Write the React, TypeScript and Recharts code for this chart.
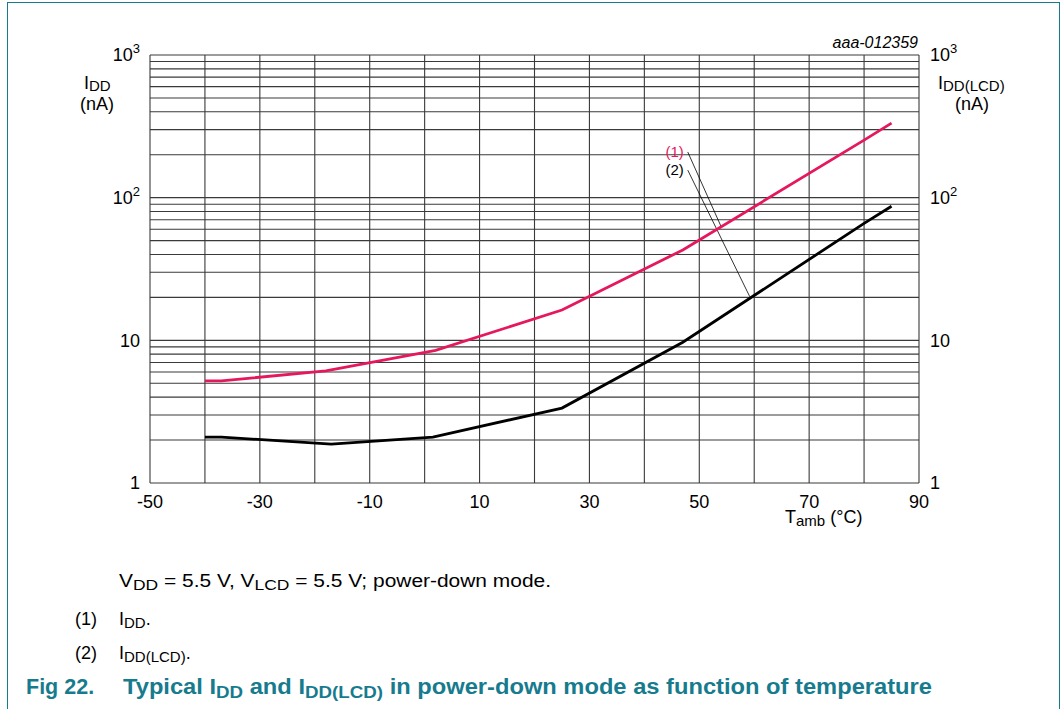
import React from 'react';
import {
  LineChart,
  Line,
  XAxis,
  YAxis,
  CartesianGrid,
  ReferenceLine,
  ReferenceDot,
} from 'recharts';

// Temperature (°C) and current (nA)
const iddTemp = [-40, -37, -18, 2, 25, 47, 80, 85];
const iddValues = [5.2, 5.2, 6.1, 8.5, 16.3, 43, 253, 333];

const iddLcdTemp = [-40, -37, -17, 1.5, 25, 47, 80, 85];
const iddLcdValues = [2.1, 2.1, 1.87, 2.1, 3.35, 9.7, 66, 87];

const xTicks = [-50, -40, -30, -20, -10, 0, 10, 20, 30, 40, 50, 60, 70, 80, 90];
const xLabelTicks = [-50, -30, -10, 10, 30, 50, 70, 90];
const yTicks = [
  1, 2, 3, 4, 5, 6, 7, 8, 9,
  10, 20, 30, 40, 50, 60, 70, 80, 90,
  100, 200, 300, 400, 500, 600, 700, 800, 900,
  1000,
];
const yLabels: Record<number, [string, string]> = {
  1: ['1', ''],
  10: ['10', ''],
  100: ['10', '2'],
  1000: ['10', '3'],
};

// leader lines for annotations (1) and (2)
const label1Start = { x: 47.9, y: 209 };
const label1End = { x: 53.95, y: 63 };
const label2Start = { x: 47.9, y: 156 };
const label2End = { x: 59.2, y: 20.2 };

const iddData = iddTemp.map((t, i) => ({ t, v: iddValues[i] }));
const iddLcdData = iddLcdTemp.map((t, i) => ({ t, v: iddLcdValues[i] }));

const FONT = '"Liberation Sans", Arial, Helvetica, sans-serif';
const RED = '#e6185c';
const TEAL = '#177b8e';

type Part = [string, boolean];
const rich = (parts: Part[], sub: number, shift = 4) => {
  let cur = 0;
  return parts.map(([s, isSub], i) => {
    const target = isSub ? shift : 0;
    const dy = target - cur;
    cur = target;
    return (
      <tspan key={i} dy={dy !== 0 ? dy : undefined} fontSize={isSub ? sub : undefined}>
        {s}
      </tspan>
    );
  });
};

const YTick = (anchor: 'start' | 'end') => (props: any) => {
  const { x, y, payload } = props;
  const lab = yLabels[payload.value];
  if (!lab) return null;
  return (
    <text x={x} y={y} dy="0.36em" textAnchor={anchor} fontFamily={FONT} fontSize={18} fill="#000">
      <tspan>{lab[0]}</tspan>
      {lab[1] ? (
        <tspan dy={-8} fontSize={13}>
          {lab[1]}
        </tspan>
      ) : null}
    </text>
  );
};

const XTick = (props: any) => {
  const { x, y, payload } = props;
  if (!xLabelTicks.includes(payload.value)) return null;
  return (
    <text x={x} y={y} dy="0.71em" textAnchor="middle" fontFamily={FONT} fontSize={18} fill="#000">
      {payload.value}
    </text>
  );
};

export default function App() {
  return (
    <div
      style={{
        position: 'absolute',
        left: 0,
        top: 0,
        width: 1063,
        height: 709,
        background: '#fff',
        overflow: 'hidden',
      }}
    >
      <div
        style={{
          position: 'absolute',
          left: 7,
          top: 2,
          width: 1053,
          height: 720,
          borderLeft: `1.5px solid ${TEAL}`,
          borderRight: `1.5px solid ${TEAL}`,
          borderTop: `1.5px solid ${TEAL}`,
          boxSizing: 'border-box',
        }}
      />
      <div style={{ position: 'absolute', left: 0, top: 0 }}>
        <LineChart
          width={1063}
          height={709}
          margin={{ top: 55, right: 84, left: 90, bottom: 196 }}
        >
          <CartesianGrid yAxisId="left" stroke="#3a3a3a" strokeWidth={1.1} />
          <XAxis
            dataKey="t"
            type="number"
            domain={[-50, 90]}
            ticks={xTicks}
            interval={0}
            height={30}
            tickSize={0}
            tickMargin={12}
            axisLine={false}
            tickLine={false}
            tick={XTick}
            allowDuplicatedCategory={false}
          />
          <YAxis
            yAxisId="left"
            orientation="left"
            scale="log"
            domain={[1, 1000]}
            allowDataOverflow
            ticks={yTicks}
            interval={0}
            width={60}
            tickSize={0}
            tickMargin={10}
            axisLine={false}
            tickLine={false}
            tick={YTick('end')}
          />
          <YAxis
            yAxisId="right"
            orientation="right"
            scale="log"
            domain={[1, 1000]}
            allowDataOverflow
            ticks={yTicks}
            interval={0}
            width={60}
            tickSize={0}
            tickMargin={11}
            axisLine={false}
            tickLine={false}
            tick={YTick('start')}
          />
          <ReferenceLine
            yAxisId="left"
            segment={[label1Start, label1End]}
            stroke="#000"
            strokeWidth={0.8}
          />
          <ReferenceLine
            yAxisId="left"
            segment={[label2Start, label2End]}
            stroke="#000"
            strokeWidth={0.8}
          />
          <Line
            yAxisId="left"
            data={iddData}
            dataKey="v"
            type="linear"
            stroke={RED}
            strokeWidth={2.8}
            dot={false}
            activeDot={false}
            isAnimationActive={false}
          />
          <Line
            yAxisId="left"
            data={iddLcdData}
            dataKey="v"
            type="linear"
            stroke="#000"
            strokeWidth={2.8}
            dot={false}
            activeDot={false}
            isAnimationActive={false}
          />
          <ReferenceDot
            yAxisId="left"
            x={label1Start.x}
            y={label1Start.y}
            r={0}
            stroke="none"
            label={{ value: '(1)', position: 'left', offset: 4, fill: RED, fontSize: 15, fontFamily: FONT }}
          />
          <ReferenceDot
            yAxisId="left"
            x={label2Start.x}
            y={label2Start.y}
            r={0}
            stroke="none"
            label={{ value: '(2)', position: 'left', offset: 4, fill: '#000', fontSize: 15, fontFamily: FONT }}
          />
        </LineChart>
      </div>
      <svg
        width={1063}
        height={709}
        style={{ position: 'absolute', left: 0, top: 0, pointerEvents: 'none' }}
        fontFamily={FONT}
      >
        <text x={918} y={48} textAnchor="end" fontSize={16} fontStyle="italic" fill="#000">
          aaa-012359
        </text>
        <text x={84} y={89} fontSize={18} fill="#000">
          {rich([['I', false], ['DD', true]], 15, 2)}
        </text>
        <text x={97} y={110} textAnchor="middle" fontSize={18} fill="#000">
          (nA)
        </text>
        <text x={938} y={89} fontSize={18} fill="#000">
          {rich([['I', false], ['DD(LCD)', true]], 15, 2)}
        </text>
        <text x={972} y={110} textAnchor="middle" fontSize={18} fill="#000">
          (nA)
        </text>
        <text x={785} y={523} fontSize={18} fill="#000">
          {rich([['T', false], ['amb', true], [' (°C)', false]], 15, 3)}
        </text>
        <text x={119} y={587} fontSize={18} fill="#000" textLength={432} lengthAdjust="spacingAndGlyphs">
          {rich(
            [
              ['V', false],
              ['DD', true],
              [' = 5.5 V, V', false],
              ['LCD', true],
              [' = 5.5 V; power-down mode.', false],
            ],
            15,
            3
          )}
        </text>
        <text x={75} y={625} fontSize={18} fill="#000">
          (1)
        </text>
        <text x={119} y={625} fontSize={18} fill="#000">
          {rich([['I', false], ['DD', true], ['.', false]], 15, 3)}
        </text>
        <text x={75} y={659} fontSize={18} fill="#000">
          (2)
        </text>
        <text x={119} y={659} fontSize={18} fill="#000">
          {rich([['I', false], ['DD(LCD)', true], ['.', false]], 15, 3)}
        </text>
        <text x={26} y={694} fontSize={21.5} fontWeight="bold" fill={TEAL}>
          Fig 22.
        </text>
        <text x={123} y={694} fontSize={21.5} fontWeight="bold" fill={TEAL} textLength={809} lengthAdjust="spacingAndGlyphs">
          {rich(
            [
              ['Typical I', false],
              ['DD', true],
              [' and I', false],
              ['DD(LCD)', true],
              [' in power-down mode as function of temperature', false],
            ],
            17,
            4
          )}
        </text>
      </svg>
    </div>
  );
}
